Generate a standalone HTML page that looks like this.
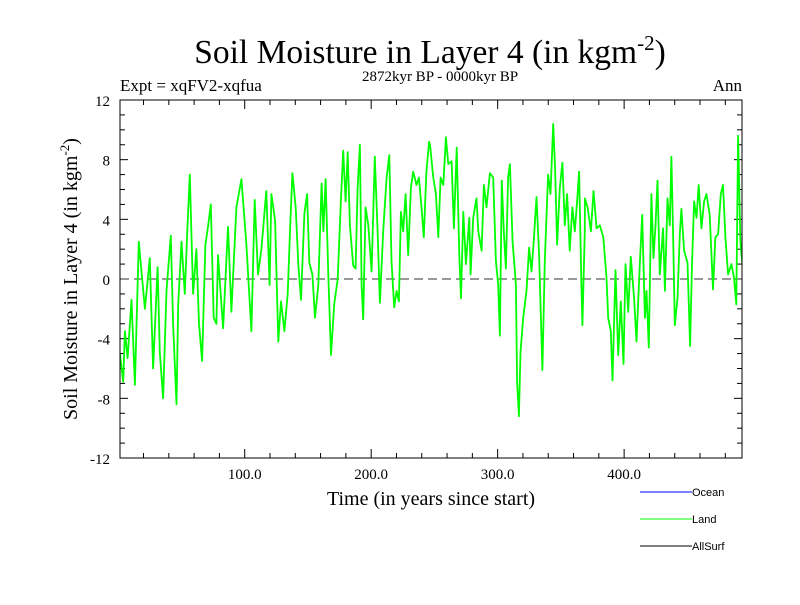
<!DOCTYPE html>
<html><head><meta charset="utf-8"><style>
body{margin:0;background:#fff;width:800px;height:600px;overflow:hidden}
svg text{font-family:"Liberation Serif",serif}
svg text.sans{font-family:"Liberation Sans",sans-serif}
</style></head><body>
<svg id="chart" width="800" height="600" viewBox="0 0 800 600" xmlns="http://www.w3.org/2000/svg">
<text x="430" y="63" font-size="33.5" text-anchor="middle">Soil Moisture in Layer 4 (in kgm<tspan dy="-13" font-size="21">-2</tspan><tspan dy="13">)</tspan></text>
<text x="120" y="91" font-size="17">Expt = xqFV2-xqfua</text>
<text x="440" y="81" font-size="15" text-anchor="middle">2872kyr BP - 0000kyr BP</text>
<text x="742" y="91" font-size="17" text-anchor="end">Ann</text>
<text x="431" y="505" font-size="20" text-anchor="middle">Time (in years since start)</text>
<text transform="translate(77,279) rotate(-90)" font-size="20" text-anchor="middle">Soil Moisture in Layer 4 (in kgm<tspan dy="-8" font-size="13">-2</tspan><tspan dy="8">)</tspan></text>
<g id="axes"></g>
<g id="series" clip-path="url(#clip)"></g>
<defs><clipPath id="clip"><rect x="120" y="100" width="622" height="358"/></clipPath></defs>
<rect x="120" y="100" width="622" height="358" fill="none" stroke="#000" stroke-width="1"/>
<g>
<line x1="640" y1="492" x2="692" y2="492" stroke="#0000ff"/>
<text class="sans" x="692" y="496" font-size="11">Ocean</text>
<line x1="640" y1="519" x2="692" y2="519" stroke="#00ff00"/>
<text class="sans" x="692" y="523" font-size="11">Land</text>
<line x1="640" y1="546" x2="692" y2="546" stroke="#000"/>
<text class="sans" x="692" y="550" font-size="11">AllSurf</text>
</g>
</svg>
<script>
const years=[1.3,3.9,5.3,7.4,10.5,13.2,16.3,18.4,21.1,25,27.6,31.1,32.9,35.5,38.2,41.6,43.4,46.1,47.4,50,52.6,54.7,56.6,59.2,61.8,63.9,66.3,68.9,71.1,73.2,75.5,77.6,78.9,82.9,86.8,89.5,93.4,97.4,101.3,105.3,107.9,110.5,113.2,117.1,119.7,121.1,
124,126.6,128.7,131.4,134,135.8,137.7,140.3,142.4,144.5,147.2,149.3,151.1,153.5,155.6,158.2,160.8,162.2,164,166.1,168.2,170.8,173.5,176.1,177.9,179.8,181.4,183.2,185.8,187.7,189.3,191.1,192.4,193.7,195.6,197.7,200.3,202.9,205.1,206.9,209.5,212.2,214.3,216.1,218.2,220.1,221.9,223.5,225.3,227.2,229.3,231.4,233.2,235.8,237.7,239.8,241.6,243.7,245.8,
246.5,249.1,251.2,253.1,254.9,257,259.1,261,263.6,265.4,267.6,269.7,271,272.8,274.9,277.6,278.6,280.7,283.3,284.7,287.3,289.1,291.2,293.9,296.5,298.6,300.4,301.8,303.3,304.9,306.5,308.3,309.7,311.8,314.4,315.4,316.8,318.1,320.2,322.8,324.9,326.8,328.6,330.7,332.8,335.4,337.3,339.9,341.8,343.9,345.4,347,349.1,351.2,353.1,354.9,357,359.1,361,362.8,364.4,366.2,367,368.9,
369,371.1,373.7,375.8,378.2,380.8,383.5,386.1,387.4,389.5,390.8,393.2,395.3,397.4,399.5,401.1,403.2,405.3,407.9,409.8,412.4,414.3,416.4,417.7,419.5,421.6,423.2,424.8,426.4,428.2,430.8,432.2,434.3,436.1,437.4,438.7,440.1,442.2,444,445.3,447.4,450.1,452.2,453.7,455.3,457.2,459,461.1,463.2,465.1,467.7,470.3,472.2,474.3,476.4,478.2,480.1,482.2,484.8,486.9,488.7,490.1,491.9,494];
const landValues=[-5,-6.9,-3.5,-5.3,-1.4,-7.1,2.5,0.5,-2,1.4,-6,0.8,-4.9,-8,-0.8,2.9,-3,-8.4,-1.7,2.5,-1,3.4,7,-1,2,-3,-5.5,2.3,3.6,5,-2.6,-3,1.6,-3.3,3.5,-2.2,4.8,6.7,2.4,-3.5,5.3,0.3,2,5.9,-0.4,5.7,
3.9,-4.2,-1.5,-3.5,-1,3.2,7.1,4.8,1,-1.4,4.4,5.7,1.1,0.3,-2.6,-0.4,6.4,3.2,6.7,0.3,-5.1,-1.7,0,5.4,8.6,5.2,8.5,3.6,0.9,0.7,6.1,9,-0.4,-2.7,4.8,3.6,0.5,8.2,3.2,-1.6,3.2,6.8,8.3,1.2,-1.9,-0.8,-1.5,4.5,3.2,5.7,1.6,6.1,7.2,6.3,6.8,4.8,2.8,7.2,9.2,
9,6.8,5.7,2.8,6.8,6.3,9.5,7.7,7.9,3.4,8.8,1.6,-1.3,4.5,1,4.1,0.3,4.1,5.4,3.2,1.9,6.3,4.8,7.1,6.8,1.2,-0.4,-3.8,6.6,3.2,0.7,6.8,7.7,2.5,-0.4,-6.9,-9.2,-4.9,-2.6,-0.8,2.1,0.5,2.6,5.5,1.6,-6.1,1.2,7,5.7,10.4,7.4,2.3,6.1,7.8,3.6,5.7,1.9,4.8,3.2,5.2,7.2,-0.4,-3.1,3.2,
5.4,4.8,3.2,5.9,3.4,3.6,2.8,0.1,-2.6,-3.5,-6.8,0.6,-5.1,-1.5,-5.7,1,-2.2,1.5,-1.3,-4.2,1,4.3,-2.6,-0.8,-4.6,5.7,1.4,3.6,6.6,0.3,3.4,-0.8,5.4,3.6,8.2,3,-3.1,-1.3,3,4.7,1.9,1.1,-4.5,1,5.2,4.1,6.3,3.4,5.2,5.7,4.3,-0.7,2.8,3,5.7,6.3,2.8,0.3,1,0.1,-1.7,9.6,2.5,0.5];
const yTickLabels=["12","8","4","0","-4","-8","-12"];
const xTickLabels=["100.0","200.0","300.0","400.0"];
const NS='http://www.w3.org/2000/svg';
const X0=120,X1=742,Y0=100,Y1=458,xmin=1.4,xmax=493.2,ymin=-12,ymax=12;
const xs=v=>X0+(v-xmin)/(xmax-xmin)*(X1-X0);
const ys=v=>Y1-(v-ymin)/(ymax-ymin)*(Y1-Y0);
function mk(t,a,p){const e=document.createElementNS(NS,t);for(const k in a)e.setAttribute(k,a[k]);p.appendChild(e);return e;}
const ax=document.getElementById('axes');
for(let v=-11;v<=11;v++){
 const l1=mk('line',{x1:X0,x2:X0+(v%4==0?8:5),y1:ys(v),y2:ys(v),stroke:'#000'},ax);
 
 
 const l2=mk('line',{x1:X1,x2:X1-(v%4==0?8:5),y1:ys(v),y2:ys(v),stroke:'#000'},ax);
 
 
}
yTickLabels.forEach(s=>{
 const t=mk('text',{x:110,y:ys(+s)+6,'font-size':15,'text-anchor':'end'},ax);t.textContent=s;
 
 
});
for(let v=20;v<=480;v+=20){
 const len=v%100==0?9:5;
 const a=mk('line',{x1:xs(v),x2:xs(v),y1:Y1,y2:Y1-len,stroke:'#000'},ax);
 
 
 const b=mk('line',{x1:xs(v),x2:xs(v),y1:Y0,y2:Y0+len,stroke:'#000'},ax);
 
 
}
xTickLabels.forEach(s=>{
 const t=mk('text',{x:xs(+s),y:479,'font-size':15,'text-anchor':'middle'},ax);t.textContent=s;
 
 
});
const zl=mk('line',{x1:X0,x2:X1,y1:ys(0),y2:ys(0),stroke:'#333','stroke-dasharray':'9,5'},ax);


const sg=document.getElementById('series');
const pl=mk('polyline',{points:years.map((y,i)=>xs(y).toFixed(1)+','+ys(landValues[i]).toFixed(1)).join(' '),fill:'none',stroke:'#00ff00','stroke-width':1.8,'stroke-linejoin':'round'},sg);


</script>
</body></html>
